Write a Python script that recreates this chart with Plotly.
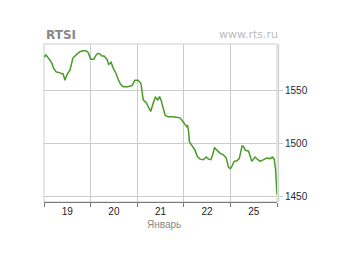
import plotly.graph_objects as go

# session position (fraction of trading days from 19 Jan) and RTSI value
day_pos = [0.00, 0.04, 0.13, 0.17, 0.20, 0.26, 0.34, 0.41, 0.45, 0.49, 0.56, 0.62, 0.69, 0.77,
           0.84, 0.90, 0.95, 1.00, 1.07, 1.12, 1.16, 1.20, 1.24, 1.29, 1.35, 1.39, 1.44, 1.48,
           1.55, 1.59, 1.65, 1.70, 1.80, 1.89, 1.95, 2.02, 2.08, 2.10, 2.13, 2.19, 2.24, 2.29,
           2.34, 2.39, 2.44, 2.48, 2.51, 2.55, 2.60, 2.66, 2.77, 2.92, 3.03, 3.06, 3.08, 3.10,
           3.12, 3.17, 3.24, 3.29, 3.35, 3.42, 3.48, 3.53, 3.58, 3.62, 3.66, 3.71, 3.78, 3.85,
           3.91, 3.96, 4.00, 4.03, 4.08, 4.14, 4.19, 4.25, 4.28, 4.32, 4.39, 4.46, 4.49, 4.53,
           4.59, 4.64, 4.71, 4.78, 4.85, 4.90, 4.94, 4.97, 5.00]
rtsi = [1582, 1584, 1579, 1576, 1572, 1568, 1567, 1566, 1560, 1565, 1570, 1581, 1584, 1587,
        1588, 1588, 1586, 1580, 1580, 1584, 1585.5, 1585, 1583, 1583, 1580, 1575, 1577, 1572,
        1566, 1561, 1555.7, 1554, 1554, 1555, 1560, 1560, 1557, 1551, 1541.5, 1539, 1535, 1530.5,
        1538, 1544, 1541.5, 1544.6, 1541.5, 1534, 1527, 1525.5, 1525.5, 1524.5, 1518, 1516.4, 1517, 1513,
        1502, 1499, 1494, 1488, 1485.5, 1485, 1487.5, 1485.5, 1485, 1489.6, 1496.5, 1494, 1491, 1489.6,
        1486.5, 1477.7, 1476.4, 1478.6, 1483.4, 1484, 1486, 1498, 1497.5, 1494, 1493, 1483.4, 1485.5, 1487.5,
        1485, 1483.4, 1485, 1486.5, 1486, 1487.5, 1485.5, 1475.5, 1452]

day_labels = ["19", "20", "21", "22", "25"]
day_centers = [0.5, 1.5, 2.5, 3.5, 4.5]
day_bounds = [0, 1, 2, 3, 4, 5]
y_ticks = [1450, 1500, 1550]

fig = go.Figure()
fig.add_trace(go.Scatter(x=day_pos, y=rtsi, mode="lines",
                         line=dict(color="#4a9a28", width=1.5), hoverinfo="skip"))

grid = "#cccccc"
fig.update_layout(
    width=340, height=255,
    margin=dict(l=44, r=63, t=44, b=53),
    paper_bgcolor="white", plot_bgcolor="white",
    showlegend=False,
    xaxis=dict(range=[0, 5], tickvals=day_centers, ticktext=day_labels, ticks="",
               showgrid=False, zeroline=False, showline=True, linecolor="#777777", linewidth=1,
               tickfont=dict(family="Arial", size=10, color="#222222"),
               minor=dict(tickvals=day_bounds, ticks="outside", ticklen=4, tickcolor="#777777",
                          showgrid=True, gridcolor=grid, gridwidth=1)),
    yaxis=dict(range=[1445, 1594.3], side="right", tickvals=y_ticks,
               ticks="outside", ticklen=5, tickcolor=grid, showgrid=True, gridcolor=grid,
               zeroline=False, showline=False,
               tickfont=dict(family="Arial", size=10, color="#1a2a3a")),
    shapes=[
        dict(type="rect", xref="paper", yref="paper", x0=0, x1=1, y0=0, y1=1,
             line=dict(color=grid, width=1), layer="below"),
        dict(type="line", xref="paper", yref="paper", x0=1.007, x1=1.007, y0=0, y1=1,
             line=dict(color=grid, width=1)),
    ],
    annotations=[
        dict(text="<b>RTSI</b>", xref="paper", yref="paper", x=0, y=1.057, xanchor="left",
             yanchor="middle", showarrow=False,
             font=dict(family="DejaVu Sans", size=12, color="#888888")),
        dict(text="www.rts.ru", xref="paper", yref="paper", x=1.013, y=1.057, xanchor="right",
             yanchor="middle", showarrow=False,
             font=dict(family="DejaVu Sans", size=11, color="#bbbbbb")),
        dict(text="Январь", xref="x", yref="paper", x=2.58, y=-0.145, xanchor="center",
             yanchor="middle", showarrow=False,
             font=dict(family="Arial", size=10, color="#888888")),
    ],
)

fig.write_html("out.html")
